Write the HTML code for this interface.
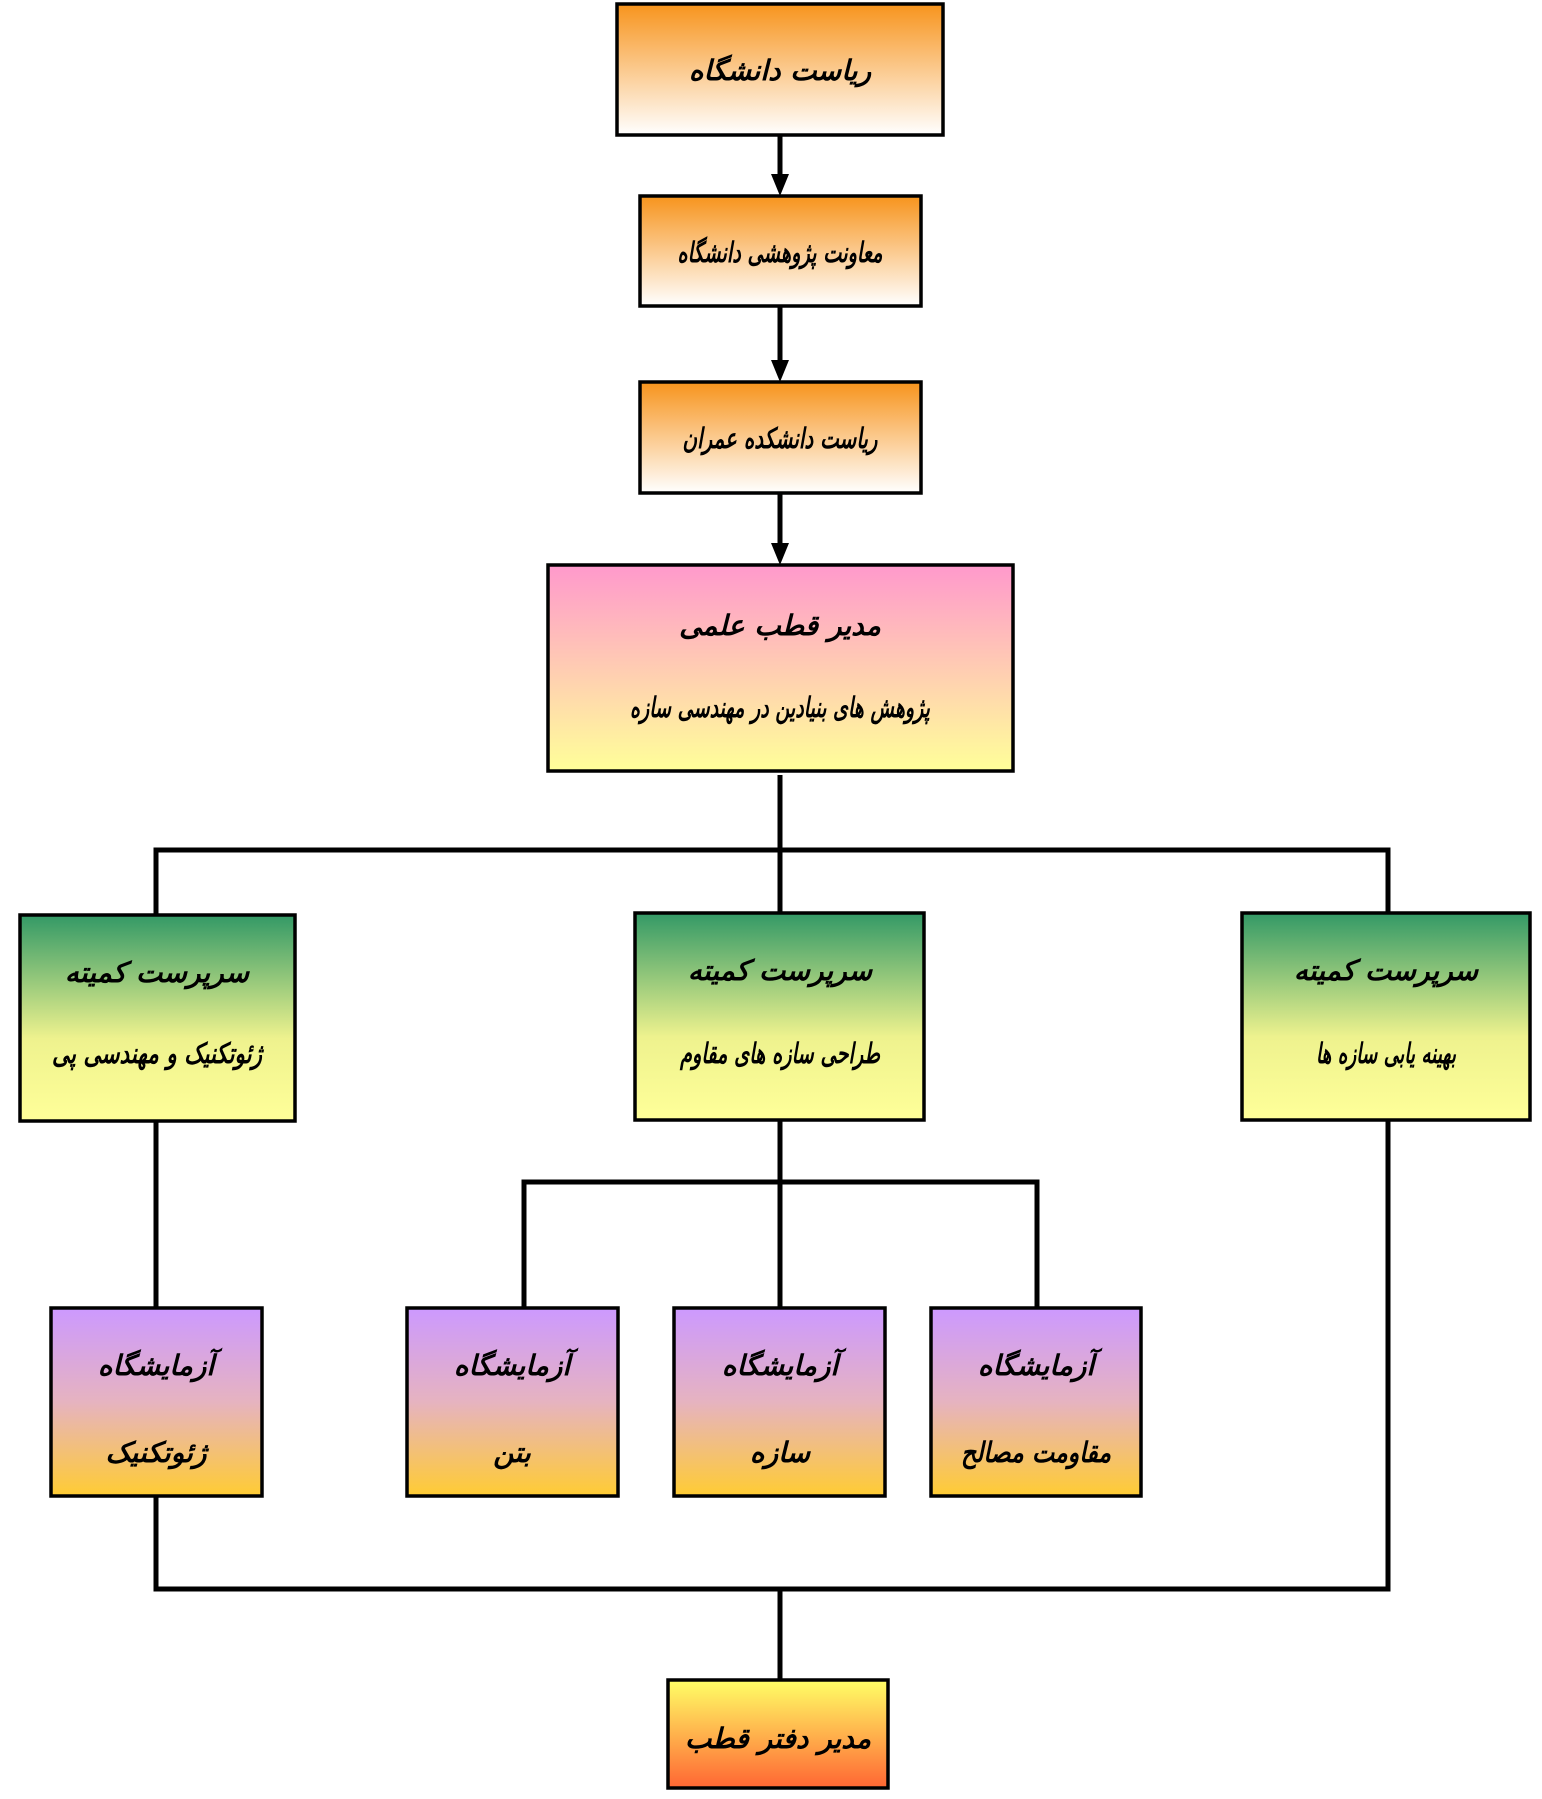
<!DOCTYPE html>
<html><head><meta charset="utf-8"><style>
html,body{margin:0;padding:0;background:#fff;}
svg{display:block;}
text{font-family:"DejaVu Sans","Liberation Sans",sans-serif;font-weight:bold;font-style:italic;fill:#000;}
</style></head><body>
<svg width="1542" height="1799" viewBox="0 0 1542 1799" xmlns="http://www.w3.org/2000/svg">
<defs>
<linearGradient id="or" x1="0" y1="0" x2="0" y2="1"><stop offset="0" stop-color="#F7941D"/><stop offset="1" stop-color="#FFFFFF"/></linearGradient>
<linearGradient id="pk" x1="0" y1="0" x2="0" y2="1"><stop offset="0" stop-color="#FF99CC"/><stop offset="1" stop-color="#FFFF99"/></linearGradient>
<linearGradient id="gr" x1="0" y1="0" x2="0" y2="1"><stop offset="0" stop-color="#339966"/><stop offset="0.6" stop-color="#EEF28E"/><stop offset="1" stop-color="#FFFF99"/></linearGradient>
<linearGradient id="pu" x1="0" y1="0" x2="0" y2="1"><stop offset="0" stop-color="#CC99FF"/><stop offset="0.5" stop-color="#E6B3C0"/><stop offset="1" stop-color="#FFCC33"/></linearGradient>
<linearGradient id="yo" x1="0" y1="0" x2="0" y2="1"><stop offset="0" stop-color="#FFFF66"/><stop offset="1" stop-color="#FF6633"/></linearGradient>
</defs>
<g stroke="#000" stroke-width="5" fill="none">
<line x1="780" y1="136" x2="780" y2="176"/>
<line x1="780" y1="306" x2="780" y2="362"/>
<line x1="780" y1="493" x2="780" y2="545"/>
<line x1="780" y1="775" x2="780" y2="852"/>
<polyline points="156,915 156,850 1388,850 1388,913"/>
<line x1="780" y1="850" x2="780" y2="913"/>
<line x1="780" y1="1120" x2="780" y2="1308"/>
<polyline points="524,1308 524,1182 1037,1182 1037,1308"/>
<line x1="156" y1="1121" x2="156" y2="1308"/>
<polyline points="156,1496 156,1589 1388,1589 1388,1120"/>
<line x1="780" y1="1589" x2="780" y2="1680"/>
</g>
<g fill="#000">
<polygon points="771,174 789,174 780,196"/>
<polygon points="771,360 789,360 780,382"/>
<polygon points="771,543 789,543 780,565"/>
</g>
<g stroke="#000" stroke-width="3.5">
<rect x="617" y="4" width="326" height="131" fill="url(#or)"/>
<rect x="640" y="196" width="281" height="110" fill="url(#or)"/>
<rect x="640" y="382" width="281" height="111" fill="url(#or)"/>
<rect x="548" y="565" width="465" height="206" fill="url(#pk)"/>
<rect x="20" y="915" width="275" height="206" fill="url(#gr)"/>
<rect x="635" y="913" width="289" height="207" fill="url(#gr)"/>
<rect x="1242" y="913" width="288" height="207" fill="url(#gr)"/>
<rect x="51" y="1308" width="211" height="188" fill="url(#pu)"/>
<rect x="407" y="1308" width="211" height="188" fill="url(#pu)"/>
<rect x="674" y="1308" width="211" height="188" fill="url(#pu)"/>
<rect x="931" y="1308" width="210" height="188" fill="url(#pu)"/>
<rect x="668" y="1680" width="220" height="108" fill="url(#yo)"/>
</g>
<g text-anchor="middle" font-size="28" direction="rtl">
<text x="780" y="80">ریاست دانشگاه</text>
<text x="780" y="262" textLength="205" lengthAdjust="spacingAndGlyphs">معاونت پژوهشی دانشگاه</text>
<text x="780" y="448" textLength="195" lengthAdjust="spacingAndGlyphs">ریاست دانشکده عمران</text>
<text x="780" y="635">مدیر قطب علمی</text>
<text x="780" y="717" textLength="300" lengthAdjust="spacingAndGlyphs">پژوهش های بنیادین در مهندسی سازه</text>
<text x="157" y="982">سرپرست کمیته</text>
<text x="157" y="1063" textLength="210" lengthAdjust="spacingAndGlyphs">ژئوتکنیک و مهندسی پی</text>
<text x="780" y="980">سرپرست کمیته</text>
<text x="780" y="1063" textLength="200" lengthAdjust="spacingAndGlyphs">طراحی سازه های مقاوم</text>
<text x="1386" y="980">سرپرست کمیته</text>
<text x="1386" y="1063" textLength="140" lengthAdjust="spacingAndGlyphs">بهینه یابی سازه ها</text>
<text x="156" y="1375">آزمایشگاه</text>
<text x="156" y="1462">ژئوتکنیک</text>
<text x="512" y="1375">آزمایشگاه</text>
<text x="512" y="1462">بتن</text>
<text x="780" y="1375">آزمایشگاه</text>
<text x="780" y="1462">سازه</text>
<text x="1036" y="1375">آزمایشگاه</text>
<text x="1036" y="1462" textLength="150" lengthAdjust="spacingAndGlyphs">مقاومت مصالح</text>
<text x="778" y="1748">مدیر دفتر قطب</text>
</g>
</svg>
</body></html>
